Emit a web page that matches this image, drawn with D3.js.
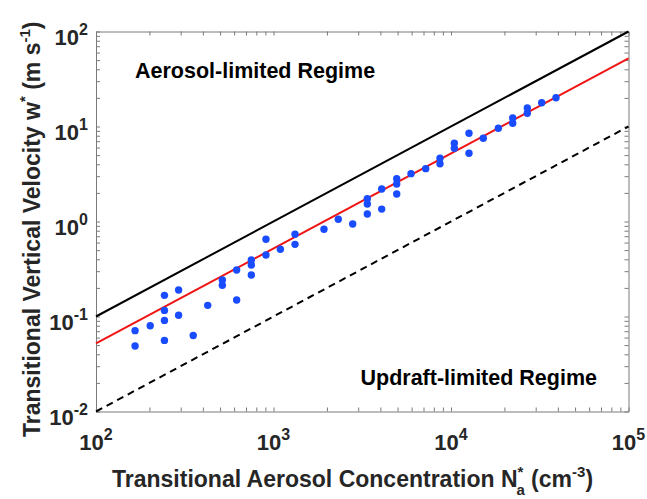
<!DOCTYPE html>
<html>
<head>
<meta charset="utf-8">
<script src="https://cdn.jsdelivr.net/npm/d3@7"></script>
<style>
  body { margin: 0; background: #fff; }
  svg text { font-family: "Liberation Sans", Arial, sans-serif; font-weight: bold; }
</style>
</head>
<body>
<svg id="svg1" width="647" height="499"></svg>
<script>
// transitional aerosol concentration (cm-3) and vertical velocity (m s-1)
var naX = [166, 166, 202, 243, 243, 243, 243, 292, 292, 353, 426, 515, 515, 620, 620,
           750, 750, 750, 907, 907, 1093, 1322, 1322, 1925, 2318, 2794, 3377, 3377, 3377,
           4070, 4070, 4945, 4945, 4945, 5952, 7204, 8670, 8670, 10440, 10440, 12630, 12630,
           15200, 18480, 22270, 22270, 26910, 26910, 32430, 39040];
var wY  = [0.071, 0.049, 0.080, 0.167, 0.116, 0.091, 0.056, 0.190, 0.103, 0.063, 0.131, 0.242, 0.213, 0.309, 0.149,
           0.393, 0.348, 0.273, 0.650, 0.444, 0.510, 0.733, 0.575, 0.828, 1.055, 0.941, 1.74, 1.53, 1.20,
           2.20, 1.35, 2.82, 2.48, 1.95, 3.19, 3.60, 4.63, 4.06, 6.66, 5.90, 8.48, 5.22,
           7.51, 9.57, 12.3, 10.8, 15.7, 13.8, 17.8, 20.1];

// reference lines w = k * Na
var lineNames = ["aerosol", "fit", "updraft"];
var lineCoef  = [1e-3, 5.2e-4, 1e-4];

var xTicks = [1e2, 1e3, 1e4, 1e5];
var xExp = ["2", "3", "4", "5"];
var yTicks = [1e-2, 1e-1, 1e0, 1e1, 1e2];
var yExp = ["-2", "-1", "0", "1", "2"];

var svg = d3.select("#svg1"),
    margin = {top: 31.5, right: 18.5, bottom: 87.5, left: 96},
    width = +svg.attr("width") - margin.left - margin.right,
    height = +svg.attr("height") - margin.top - margin.bottom;

var x = d3.scaleLog().domain([1e2, 1e5]).range([margin.left, margin.left + width]);
var y = d3.scaleLog().domain([1e-2, 1e2]).range([margin.top + height, margin.top]);

var axisColor = "#7a7a7a", textColor = "#262626";

svg.append("rect")
    .attr("x", margin.left).attr("y", margin.top)
    .attr("width", width).attr("height", height)
    .attr("fill", "#fff");

// inward ticks on all four sides
function styleAxis(g) {
  g.selectAll("path, line").attr("stroke", axisColor).attr("stroke-width", 1);
  g.selectAll("text").remove();
}
svg.append("g").attr("transform", "translate(0," + (margin.top + height) + ")")
    .call(d3.axisBottom(x).tickValues(x.ticks()).tickSizeInner(-4).tickSizeOuter(0).tickFormat(""))
    .call(styleAxis);
svg.append("g").attr("transform", "translate(0," + margin.top + ")")
    .call(d3.axisTop(x).tickValues(x.ticks()).tickSizeInner(-4).tickSizeOuter(0).tickFormat(""))
    .call(styleAxis);
svg.append("g").attr("transform", "translate(" + margin.left + ",0)")
    .call(d3.axisLeft(y).tickValues(y.ticks()).tickSizeInner(-4).tickSizeOuter(0).tickFormat(""))
    .call(styleAxis);
svg.append("g").attr("transform", "translate(" + (margin.left + width) + ",0)")
    .call(d3.axisRight(y).tickValues(y.ticks()).tickSizeInner(-4).tickSizeOuter(0).tickFormat(""))
    .call(styleAxis);

// reference lines
var line = d3.line().x(function(d) { return x(d[0]); }).y(function(d) { return y(d[1]); });
var lineStyle = {
  aerosol: {color: "#000", dash: null},
  fit:     {color: "#f01515", dash: null},
  updraft: {color: "#000", dash: "7,5"}
};
lineNames.forEach(function(name, i) {
  var pts = x.domain().map(function(v) { return [v, lineCoef[i] * v]; });
  svg.append("path")
      .attr("d", line(pts))
      .attr("fill", "none")
      .attr("stroke", lineStyle[name].color)
      .attr("stroke-width", 2)
      .attr("stroke-dasharray", lineStyle[name].dash);
});

// data points
svg.selectAll(".dot")
    .data(naX.map(function(v, i) { return [v, wY[i]]; }))
  .enter().append("circle")
    .attr("class", "dot")
    .attr("cx", function(d) { return x(d[0]); })
    .attr("cy", function(d) { return y(d[1]); })
    .attr("r", 3.7)
    .attr("fill", "#1a4cff");

// tick labels with superscript exponents
xTicks.forEach(function(v, i) {
  var t = svg.append("text")
      .attr("x", x(v)).attr("y", margin.top + height + 38)
      .attr("text-anchor", "middle")
      .attr("fill", textColor)
      .style("font-size", "22px");
  t.append("tspan").text("10");
  t.append("tspan").attr("dy", -10).style("font-size", "16px").text(xExp[i]);
});
yTicks.forEach(function(v, i) {
  var t = svg.append("text")
      .attr("x", margin.left - 8).attr("y", y(v) + 13)
      .attr("text-anchor", "end")
      .attr("fill", textColor)
      .style("font-size", "22px");
  t.append("tspan").text("10");
  t.append("tspan").attr("dy", -10).style("font-size", "16px").text(yExp[i]);
});

// x axis label
var xl = svg.append("text")
    .attr("x", 112)
    .attr("y", 487)
    .attr("fill", textColor)
    .style("font-size", "23px");
xl.append("tspan").text("Transitional Aerosol Concentration N");
xl.append("tspan").attr("dy", -10).style("font-size", "15px").text("*");
xl.append("tspan").attr("dx", -7).attr("dy", 18).style("font-size", "15px").text("a");
xl.append("tspan").attr("dy", -8).text(" (cm");
xl.append("tspan").attr("dy", -10).style("font-size", "15px").text("-3");
xl.append("tspan").attr("dy", 10).text(")");

// y axis label
var yl = svg.append("text")
    .attr("transform", "translate(40,437) rotate(-90)")
    .attr("fill", textColor)
    .style("font-size", "23px");
yl.append("tspan").text("Transitional Vertical Velocity w");
yl.append("tspan").attr("dy", -10).style("font-size", "15px").text("*");
yl.append("tspan").attr("dy", 10).text(" (m s");
yl.append("tspan").attr("dy", -10).style("font-size", "15px").text("-1");
yl.append("tspan").attr("dy", 10).text(")");

// regime annotations
svg.append("text")
    .attr("x", 135).attr("y", 78)
    .attr("fill", "#000")
    .style("font-size", "21.5px")
    .text("Aerosol-limited Regime");
svg.append("text")
    .attr("x", 597).attr("y", 385)
    .attr("text-anchor", "end")
    .attr("fill", "#000")
    .style("font-size", "21.5px")
    .text("Updraft-limited Regime");
</script>
</body>
</html>
